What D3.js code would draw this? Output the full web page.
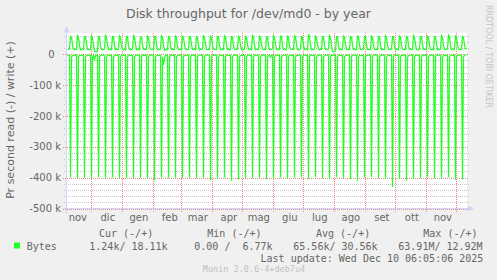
<!DOCTYPE html>
<html><head><meta charset="utf-8">
<script src="https://cdn.jsdelivr.net/npm/d3@7"></script>
<style>
html,body{margin:0;padding:0;background:#f0f0f0;}
svg{display:block;}
text{font-family:"DejaVu Sans",sans-serif;}
.mono{font-family:"DejaVu Sans Mono",monospace;white-space:pre;}
</style></head><body>
<svg id="chart" width="497" height="280"></svg>
<script>
// ---------- data ----------
const title = "Disk throughput for /dev/md0 - by year";
const yAxisLabel = "Pr second read (-) / write (+)";
const watermark = "RRDTOOL / TOBI OETIKER";
const footer = "Munin 2.0.6-4+deb7u4";
const dataStart = "2024-11-06T16:00:00Z";   // first daily sample
const viewEnd = "2025-12-11T16:00:00Z";
const monthLabels = ["nov","dic","gen","feb","mar","apr","mag","giu","lug","ago","set","ott","nov"];
const yMajorTicks = [-500000,-400000,-300000,-200000,-100000,0];
const yTickLabels = ["-500 k","-400 k","-300 k","-200 k","-100 k","0"];
const seriesName = "Bytes";
const legendHeaders = ["Cur (-/+)","Min (-/+)","Avg (-/+)","Max (-/+)"];
const legendValues = ["1.24k/ 18.11k","0.00 /  6.77k","65.56k/ 30.56k","63.91M/ 12.92M"];
const lastUpdate = "Last update: Wed Dec 10 06:05:06 2025";

// daily read (kB/s, plotted negative): 3 days, then one row per week starting on the backup day
const readPre = [3,4,3];
const readWeeks = [
 [400,9,4,3,3,4,3],[402,8,3,4,3,3,4],[400,10,4,3,3,4,3],[401,9,3,20,5,3,3],
 [399,8,4,3,3,3,4],[402,9,3,3,4,3,3],[400,10,4,3,3,4,3],[401,8,3,4,3,3,3],
 [400,9,3,3,4,3,4],[403,9,4,3,3,3,3],[400,8,3,4,3,4,3],[401,10,3,3,3,3,4],
 [408,9,4,3,4,3,3],[400,8,35,12,4,3,3],[402,9,3,3,3,4,3],[400,9,4,3,3,3,4],
 [401,8,3,4,3,3,3],[400,10,3,3,4,3,3],[403,9,4,3,3,4,3],[400,8,3,3,3,3,4],
 [408,9,3,4,3,3,3],[401,10,4,3,3,4,3],[400,8,3,3,4,3,3],[410,9,3,3,3,3,4],
 [406,9,4,4,3,3,3],[401,8,3,3,3,4,3],[403,10,3,3,4,3,3],[400,9,4,3,3,3,4],
 [405,8,3,4,10,3,3],[401,9,3,3,3,4,3],[400,10,4,3,3,3,3],[403,8,3,3,4,3,4],
 [400,9,3,4,3,3,3],[399,9,4,3,3,4,3],[405,8,3,3,4,3,3],[399,10,3,4,3,3,4],
 [402,9,4,3,3,3,3],[405,8,3,3,4,3,3],[399,9,3,4,3,4,3],[402,10,4,3,3,3,4],
 [404,8,3,3,3,3,3],[410,9,3,4,4,3,3],[399,9,4,3,3,4,3],[399,8,3,3,3,3,4],
 [402,10,3,4,3,3,3],[404,9,4,3,4,3,3],[430,8,3,3,3,4,3],[404,9,3,4,3,3,4],
 [410,10,4,3,3,3,3],[404,8,3,3,4,3,3],[402,9,3,4,3,4,3],[399,9,4,3,3,3,4],
 [402,8,3,3,3,3,3],[404,10,3,4,4,3,3],[399,9,4,3,3,4,3],[407,8,3,3,3,3,4],
 [405,9,3,2,1.24]
];
// daily write (kB/s, plotted positive)
const writePre = [17,16,17];
const writeWeeks = [
 [58,56,30,16,15,17,16],[60,55,28,15,16,15,17],[57,57,33,16,15,16,15],[59,54,30,10,9,8,9],
 [58,56,26,16,15,16,17],[61,55,31,15,16,17,15],[57,56,29,16,17,15,16],[59,53,30,17,15,16,15],
 [58,57,27,16,16,15,17],[60,55,32,15,17,16,15],[56,56,30,16,15,17,16],[59,54,28,17,16,15,16],
 [58,57,31,15,15,16,17],[60,55,29,12,14,16,15],[57,56,30,16,17,15,16],[59,55,28,15,16,16,15],
 [61,54,31,17,15,15,16],[58,57,30,16,16,17,15],[57,55,27,15,17,16,16],[60,56,32,16,15,15,17],
 [59,54,30,17,16,16,15],[58,57,29,15,15,17,16],[60,55,31,16,17,15,15],[57,56,28,17,16,16,17],
 [59,55,30,15,15,15,16],[58,54,31,16,17,16,15],[61,57,29,15,16,17,16],[58,55,30,17,15,15,15],
 [57,56,28,16,16,16,17],[60,54,32,15,17,15,16],[59,57,30,16,15,16,15],[58,55,29,17,16,17,16],
 [60,56,31,15,15,15,17],[57,54,28,16,17,16,15],[66,57,30,15,16,15,16],[59,55,31,17,15,17,15],
 [58,56,29,16,16,15,17],[60,54,30,9,8,9,10],[57,57,28,15,16,16,15],[59,55,32,17,15,15,16],
 [58,56,30,16,17,16,15],[61,54,29,15,15,17,17],[57,57,31,16,16,15,15],[59,55,28,17,15,16,16],
 [58,56,30,15,17,15,15],[60,54,31,16,16,16,17],[57,57,29,15,15,17,15],[59,55,30,17,16,15,16],
 [58,56,28,16,17,16,15],[60,54,32,15,15,15,17],[57,57,30,16,16,17,16],[59,55,29,17,15,16,15],
 [58,56,31,15,17,15,16],[60,54,28,16,16,16,17],[62,57,30,15,15,17,15],[59,55,31,17,16,15,16],
 [58,55,30,17,18.11]
];

// ---------- drawing ----------
const COLOR = "#22ff22", FONT = "#666666", AXIS = "#cfd6f8";
const svg = d3.select("#chart");
svg.append("rect").attr("width",497).attr("height",280).attr("fill","#f0f0f0");

const L = 67, R = 467, T = 33, B = 208.5;
const t0 = new Date(dataStart);
const x = d3.scaleUtc().domain([t0, new Date(viewEnd)]).range([L, R]);
const y = d3.scaleLinear().domain([-500000, 69000]).range([B, T]);
const DAY = 86400000;

const readVals = readPre.concat(...readWeeks);
const writeVals = writePre.concat(...writeWeeks);
const readData = readVals.map((v,i)=>({t:new Date(+t0 + i*DAY), v:-v*1000}));
const writeData = writeVals.map((v,i)=>({t:new Date(+t0 + i*DAY), v:v*1000}));

svg.append("rect").attr("x",L).attr("y",T).attr("width",R-L).attr("height",B-T).attr("fill","#ffffff");

// minor horizontal grid
const minor = d3.range(-500000, 69000, 20000).filter(v=>v%100000!==0);
svg.append("g").selectAll("line").data(minor).join("line")
  .attr("x1",64).attr("x2",469)
  .attr("y1",d=>Math.round(y(d))+0.5).attr("y2",d=>Math.round(y(d))+0.5)
  .attr("stroke","#c8c8c8").attr("stroke-dasharray","1,1");
// month grid
const months = d3.utcMonth.range(x.domain()[0], x.domain()[1]);
svg.append("g").selectAll("line").data(months).join("line")
  .attr("x1",d=>Math.round(x(d))+0.5).attr("x2",d=>Math.round(x(d))+0.5)
  .attr("y1",T).attr("y2",213)
  .attr("stroke","#f08a8a").attr("stroke-dasharray","1,1");
// major horizontal grid
svg.append("g").selectAll("line").data(yMajorTicks).join("line")
  .attr("x1",63).attr("x2",469)
  .attr("y1",d=>Math.round(y(d))+0.5).attr("y2",d=>Math.round(y(d))+0.5)
  .attr("stroke","#f08a8a").attr("stroke-dasharray","1,1");

// data
svg.append("clipPath").attr("id","clip").append("rect").attr("x",L).attr("y",T).attr("width",R-L).attr("height",B-T);
const line = d3.line().x(d=>Math.round(x(d.t))+0.5).y(d=>y(d.v));
const g = svg.append("g").attr("clip-path","url(#clip)");
g.append("path").datum(writeData).attr("d",line).attr("fill","none").attr("stroke",COLOR).attr("stroke-width",1.25);
g.append("path").datum(readData).attr("d",line).attr("fill","none").attr("stroke",COLOR).attr("stroke-width",1.25);

// axes
svg.append("line").attr("x1",66.5).attr("x2",66.5).attr("y1",213).attr("y2",30).attr("stroke",AXIS);
svg.append("path").attr("d","M63.5,32.5L66.5,26L69.5,32.5Z").attr("fill",AXIS);
svg.append("line").attr("x1",63).attr("x2",469).attr("y1",208.5).attr("y2",208.5).attr("stroke",AXIS);
svg.append("path").attr("d","M468,205.5L474,208.5L468,211.5Z").attr("fill",AXIS);

// y tick labels
svg.append("g").selectAll("text").data(yMajorTicks).join("text")
  .attr("x",(d)=> d===0 ? 54.6 : 61).attr("y",d=>y(d)+3.6)
  .attr("text-anchor","end").attr("font-size",10).attr("fill",FONT)
  .text((d,i)=>yTickLabels[i]);

// month labels
const labelMonths = d3.utcMonth.range(d3.utcMonth.floor(x.domain()[0]), x.domain()[1]);
svg.append("g").selectAll("text").data(labelMonths).join("text")
  .attr("x",d=>x(new Date(+d + 16.5*DAY))).attr("y",221)
  .attr("text-anchor","middle").attr("font-size",10).attr("fill",FONT)
  .text((d,i)=>monthLabels[i]);

// title & labels
svg.append("text").attr("x",248.5).attr("y",18.3).attr("text-anchor","middle")
  .attr("font-size",12.5).attr("fill",FONT).text(title);
svg.append("text").attr("transform","translate(14.2,120) rotate(-90)").attr("text-anchor","middle")
  .attr("font-size",11).attr("fill",FONT).text(yAxisLabel);
svg.append("text").attr("transform","translate(485.6,5) rotate(90)").attr("text-anchor","start")
  .attr("font-size",8).attr("fill","#c4c4c4").text(watermark);

// legend
const headerX = [99,207.3,316,423.3];
svg.append("g").selectAll("text").data(legendHeaders).join("text").attr("class","mono")
  .attr("x",(d,i)=>headerX[i]).attr("y",237).attr("font-size",10).attr("fill",FONT).text(d=>d);
svg.append("rect").attr("x",14).attr("y",242.5).attr("width",6).attr("height",6).attr("fill",COLOR);
svg.append("text").attr("class","mono").attr("x",26.7).attr("y",249.6).attr("font-size",10).attr("fill",FONT).text(seriesName);
const valueX = [89.3,194.3,293.3,398.3];
svg.append("g").selectAll("text").data(legendValues).join("text").attr("class","mono")
  .attr("xml:space","preserve")
  .attr("x",(d,i)=>valueX[i]).attr("y",249.6).attr("font-size",10).attr("fill",FONT).text(d=>d);
svg.append("text").attr("class","mono").attr("x",483.3).attr("y",261.6).attr("text-anchor","end")
  .attr("font-size",10).attr("fill",FONT).text(lastUpdate);
svg.append("text").attr("class","mono").attr("x",254).attr("y",272).attr("text-anchor","middle")
  .attr("font-size",8.5).attr("fill","#c0c0c0").text(footer);
</script></body></html>
